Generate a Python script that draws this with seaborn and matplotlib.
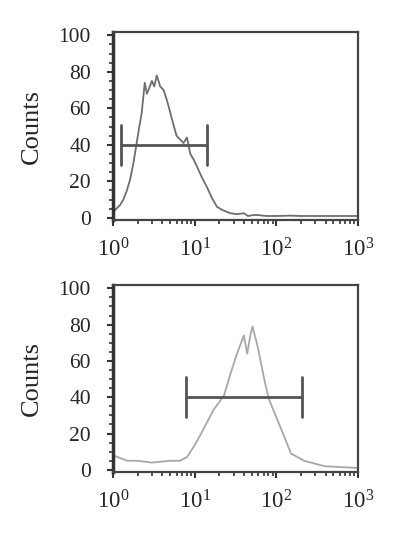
import numpy as np
import pandas as pd
import seaborn as sns
import matplotlib.pyplot as plt
from matplotlib.ticker import MultipleLocator, LogLocator, NullFormatter

# 数据：两个样本的荧光强度直方图（手工读图）
top_x = [1.0, 1.1, 1.22, 1.34, 1.48, 1.62, 1.78, 1.95, 2.1, 2.24, 2.45, 2.6,
         2.72, 2.99, 3.2, 3.44, 3.78, 4.17, 4.6, 5.0, 5.5, 6.0, 6.6, 7.3,
         8.05, 8.85, 9.7, 10.7, 12.3, 14.1, 16.2, 18.8, 22.5, 27.5, 33, 40,
         45, 52, 60, 75, 100, 150, 200, 300, 400, 600, 1000]
top_counts = [3, 5, 7, 10, 15, 21, 30, 41, 50, 57, 74, 68, 70, 75, 72, 78, 72,
              70, 64, 58, 51, 45, 43, 41, 44, 35, 32, 28, 22, 17, 11, 6, 4,
              2.5, 2, 2.5, 1, 1.5, 1.5, 1, 1, 1.2, 1, 1, 1, 1, 1]

bottom_x = [1.0, 1.5, 2, 3, 5, 6.6, 8.05, 9.8, 11.7, 14.1, 17, 22.9, 27.5, 33,
            40, 44, 48, 51, 59, 71, 81, 102, 123, 151, 219, 389, 1000]
bottom_counts = [8, 5, 5, 4, 5, 5, 7, 13, 19, 26, 33, 41, 53, 64, 74, 64, 74,
                 79, 68, 50, 39, 28, 19, 9, 5, 2, 1]

# 门控标记（左右端点，高度）
top_gate = [1.24, 14.2]
bottom_gate = [7.8, 204]
gate_level = 40
gate_half = 11

yticks = [0, 20, 40, 60, 80, 100]
xticks = [1, 10, 100, 1000]
xtick_labels = [r'$\mathregular{10^{0}}$', r'$\mathregular{10^{1}}$',
                r'$\mathregular{10^{2}}$', r'$\mathregular{10^{3}}$']

sns.set_style("ticks")
plt.rcParams['font.family'] = ['Liberation Serif', 'DejaVu Serif']
plt.rcParams['mathtext.fontset'] = 'custom'
plt.rcParams['mathtext.rm'] = 'Liberation Serif'

fig = plt.figure(figsize=(3.97, 5.37), dpi=100)
ax1 = fig.add_axes([0.2846, 0.5903, 0.6172, 0.3501])
ax2 = fig.add_axes([0.2846, 0.1210, 0.6172, 0.3482])

panels = [
    (ax1, top_x, top_counts, top_gate, '#6e6e6e'),
    (ax2, bottom_x, bottom_counts, bottom_gate, '#a8a8a8'),
]

for ax, xs, ys, gate, color in panels:
    df = pd.DataFrame({'x': xs, 'y': ys})
    sns.lineplot(data=df, x='x', y='y', ax=ax, color=color, linewidth=1.3)

    # 门控线
    ax.plot(gate, [gate_level, gate_level], color='#555555', linewidth=2)
    for gx in gate:
        ax.plot([gx, gx], [gate_level - gate_half, gate_level + gate_half],
                color='#555555', linewidth=2)

    ax.set_xscale('log')
    ax.set_xlim(1, 1000)
    ax.set_ylim(-1.2, 101.8)
    ax.set_xticks(xticks)
    ax.set_xticklabels(xtick_labels, fontsize=16.5)
    ax.xaxis.set_minor_locator(LogLocator(base=10, subs=np.arange(2, 10)))
    ax.xaxis.set_minor_formatter(NullFormatter())
    ax.set_yticks(yticks)
    ax.set_yticklabels([str(v) for v in yticks], fontsize=15.5)
    ax.yaxis.set_minor_locator(MultipleLocator(5))

    ax.tick_params(axis='both', which='major', direction='out', length=4,
                   width=1.5, color='#333333')
    ax.tick_params(axis='both', which='minor', direction='out', length=3,
                   width=1.2, color='#333333')
    ax.tick_params(axis='y', which='major', pad=12)
    ax.tick_params(axis='x', which='major', pad=9)

    for side in ['top', 'right', 'bottom']:
        ax.spines[side].set_color('#444444')
        ax.spines[side].set_linewidth(1.6)
    ax.spines['left'].set_color('#333333')
    ax.spines['left'].set_linewidth(2.5)

    ax.set_xlabel('')
    ax.set_ylabel('Counts', fontsize=19)
    ax.yaxis.set_label_coords(-0.285, 0.5)

fig.savefig('out.png', dpi=100)
